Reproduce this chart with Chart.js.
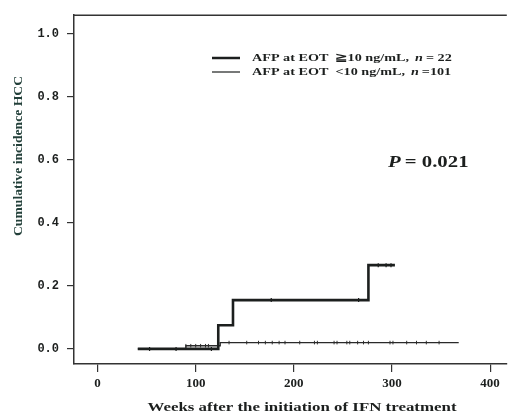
<!DOCTYPE html>
<html>
<head>
<meta charset="utf-8">
<script src="https://cdn.jsdelivr.net/npm/chart.js@4"></script>
<style>
  body { margin: 0; background: #fff; }
  #wrap { width: 512px; height: 417px; }
</style>
</head>
<body>
<div id="wrap"><canvas id="kmChart"></canvas></div>
<script>
// step curves: event time (weeks) and cumulative incidence after the step
const highTimes = [41, 123, 138, 276, 303];
const highValues = [0, 0.075, 0.155, 0.266, 0.266];
const lowTimes = [41, 90, 125, 368];
const lowValues = [0, 0.01, 0.02, 0.02];

// censoring marks (weeks)
const highCensor = [53, 80, 116, 177, 266, 286, 294, 299];
const lowCensor = [90, 95, 100, 105, 110, 113, 134, 152, 164, 171, 178, 185, 191, 206, 221, 224,
    241, 244, 254, 257, 265, 271, 276, 298, 301, 315, 325, 335, 348];

const groupLabels = ["AFP at EOT  \u226710 ng/mL,", "AFP at EOT  <10 ng/mL,"];
const groupN = ["= 22", "=101"];

const xTicks = [0, 100, 200, 300, 400];
const yTicks = [0, 0.2, 0.4, 0.6, 0.8, 1.0];
const pValue = "0.021";

const ink = "#1c1f1e";

function stepValue(times, values, t) {
    let v = values[0];
    for (let i = 0; i < times.length; i++) {
        if (times[i] <= t) v = values[i];
    }
    return v;
}

function toPoints(xs, ys) {
    return xs.map((x, i) => ({ x: x, y: ys[i] }));
}

// draws text squeezed/stretched horizontally, returns the drawn width
function wideText(c, text, x, y, sx) {
    c.save();
    c.translate(x, y);
    c.scale(sx, 1);
    c.fillText(text, 0, 0);
    c.restore();
    return c.measureText(text).width * sx;
}

const extras = {
    id: "extras",
    afterDraw(chart) {
        const c = chart.ctx;
        const a = chart.chartArea;
        c.save();
        // top frame line
        c.strokeStyle = "#333";
        c.lineWidth = 1.5;
        c.beginPath();
        c.moveTo(a.left, a.top);
        c.lineTo(a.right, a.top);
        c.stroke();

        // legend
        const widths = [2.5, 1.2];
        const sx = 1.35;
        for (let i = 0; i < 2; i++) {
            const y = 58 + i * 14;
            c.strokeStyle = ink;
            c.lineWidth = widths[i];
            c.beginPath();
            c.moveTo(212, y);
            c.lineTo(240, y);
            c.stroke();
            c.fillStyle = ink;
            c.textBaseline = "middle";
            c.textAlign = "left";
            c.font = "bold 10.5px 'Liberation Serif'";
            let x = 252 + wideText(c, groupLabels[i], 252, y, sx) + 6;
            c.font = "italic bold 10.5px 'Liberation Serif'";
            x += wideText(c, "n", x, y, sx) + 3;
            c.font = "bold 10.5px 'Liberation Serif'";
            wideText(c, groupN[i], x, y, sx);
        }

        // p value
        c.font = "italic bold 16px 'Liberation Serif'";
        let px = 388 + wideText(c, "P", 388, 163, 1.3) + 4;
        c.font = "bold 16px 'Liberation Serif'";
        wideText(c, "= " + pValue, px, 163, 1.3);

        // axis titles
        c.font = "bold 13.5px 'Liberation Serif'";
        c.textAlign = "center";
        wideText(c, "Weeks after the initiation of IFN treatment", 302, 408, 1.25);
        c.save();
        c.translate(19, 156);
        c.rotate(-Math.PI / 2);
        c.fillStyle = "#23403a";
        c.font = "bold 13px 'Liberation Serif'";
        wideText(c, "Cumulative incidence HCC", 0, 0, 1.05);
        c.restore();
        c.restore();
    }
};

const ctx = document.getElementById("kmChart").getContext("2d");

new Chart(ctx, {
    type: "line",
    data: {
        datasets: [
            {
                label: groupLabels[0],
                data: toPoints(highTimes, highValues),
                stepped: true,
                borderColor: ink,
                borderWidth: 2.6,
                pointRadius: 0,
                fill: false
            },
            {
                label: groupLabels[1],
                data: toPoints(lowTimes, lowValues),
                stepped: true,
                borderColor: "#2a2a2a",
                borderWidth: 1.3,
                pointRadius: 0,
                fill: false
            },
            {
                label: "censor high",
                data: highCensor.map(t => ({ x: t, y: stepValue(highTimes, highValues, t) })),
                showLine: false,
                pointStyle: "line",
                rotation: 90,
                pointRadius: 2,
                borderColor: ink,
                borderWidth: 1.2
            },
            {
                label: "censor low",
                data: lowCensor.map(t => ({ x: t, y: stepValue(lowTimes, lowValues, t) })),
                showLine: false,
                pointStyle: "line",
                rotation: 90,
                pointRadius: 1.8,
                borderColor: "#333",
                borderWidth: 1
            }
        ]
    },
    options: {
        responsive: true,
        maintainAspectRatio: false,
        animation: false,
        layout: { padding: { top: 14, right: 0, left: 0, bottom: 0 } },
        plugins: {
            legend: { display: false },
            tooltip: { enabled: false }
        },
        scales: {
            x: {
                type: "linear",
                min: -24,
                max: 417,
                afterBuildTicks: s => { s.ticks = xTicks.map(v => ({ value: v })); },
                afterFit: s => { s.height = 53; },
                grid: { drawOnChartArea: false, drawTicks: true, tickLength: 8, color: "#333", lineWidth: 1.2 },
                border: { display: true, color: "#333", width: 1.5 },
                ticks: {
                    color: ink,
                    padding: 4,
                    maxRotation: 0,
                    font: { family: "'Liberation Serif'", weight: "bold", size: 13 }
                }
            },
            y: {
                min: -0.048,
                max: 1.06,
                afterBuildTicks: s => { s.ticks = yTicks.map(v => ({ value: v })); },
                afterFit: s => { s.width = 74; },
                grid: { drawOnChartArea: false, drawTicks: true, tickLength: 7, color: "#333", lineWidth: 1.2 },
                border: { display: true, color: "#333", width: 1.5 },
                ticks: {
                    color: ink,
                    padding: 8,
                    callback: v => v.toFixed(1),
                    font: { family: "'Liberation Mono'", weight: "bold", size: 12 }
                }
            }
        }
    },
    plugins: [extras]
});
</script>
</body>
</html>
